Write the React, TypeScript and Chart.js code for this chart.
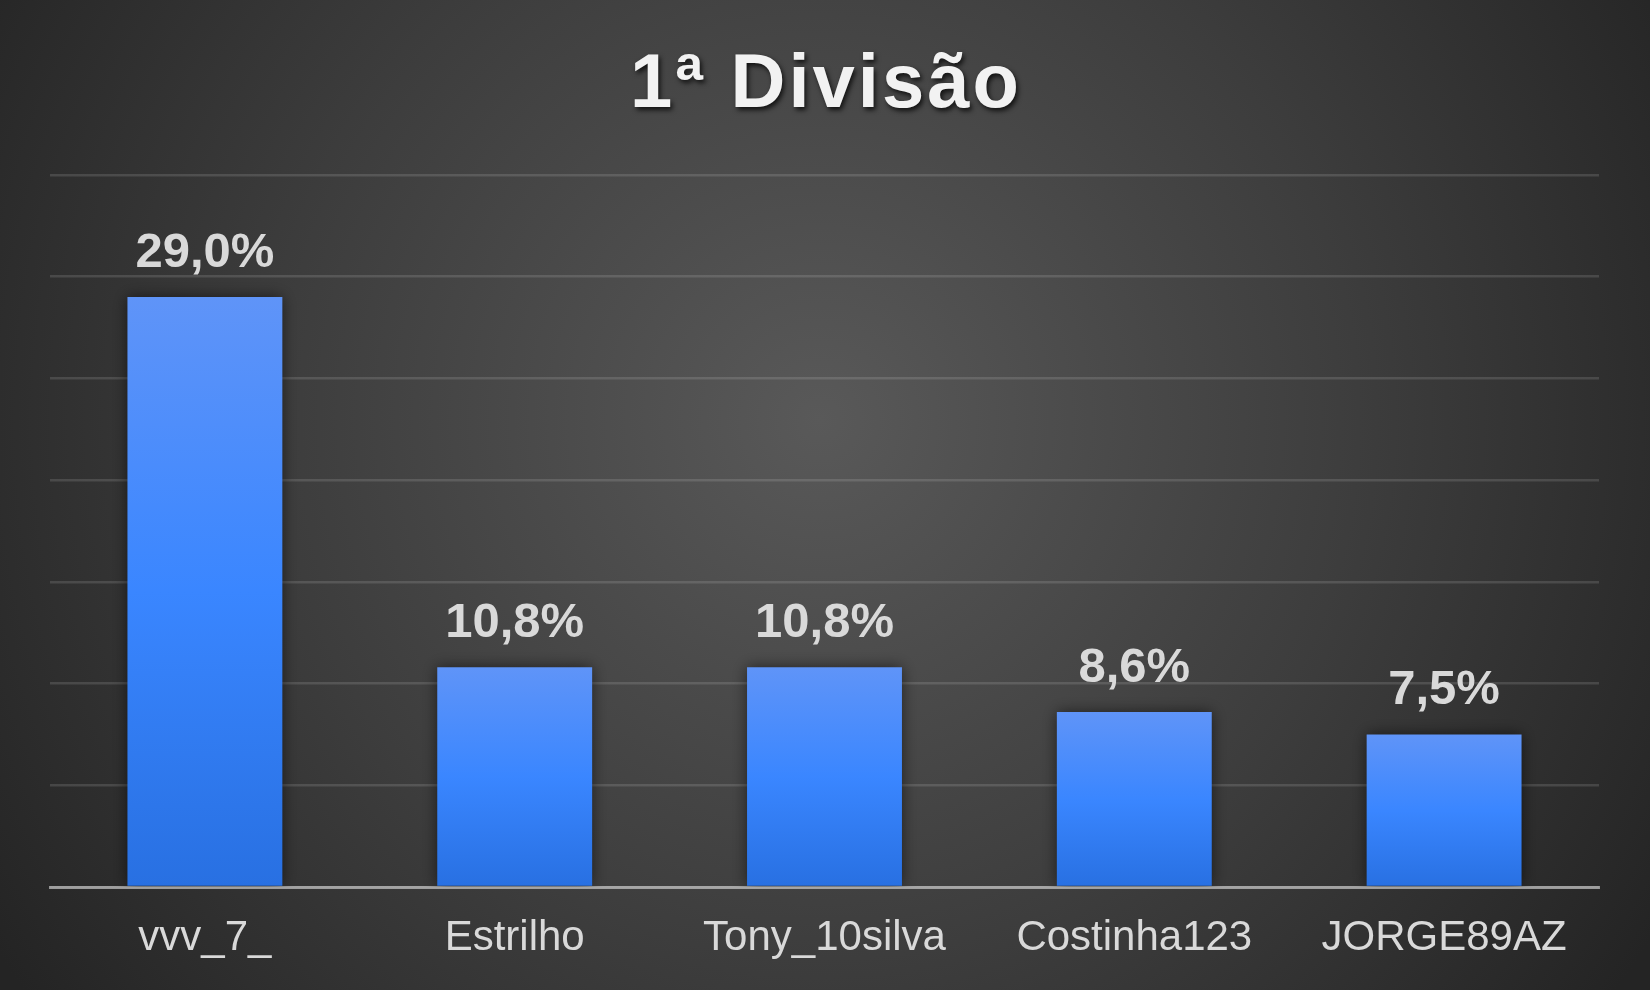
import React, { useEffect, useRef } from "react";
import { Chart, registerables } from "chart.js";

Chart.register(...registerables);

const TITLE = "1ª Divisão";
const categories = ["vvv_7_", "Estrilho", "Tony_10silva", "Costinha123", "JORGE89AZ"];
const values = [29.0, 10.8, 10.8, 8.6, 7.5];
const yMax = 35;
const yStep = 5;

const fmt = (v: number) => v.toFixed(1).replace(".", ",") + "%";

const bgPlugin = {
  id: "bgPlugin",
  beforeDraw(chart: any) {
    const { ctx, width, height } = chart;
    ctx.save();
    const g = ctx.createRadialGradient(820, 420, 0, 820, 420, 980);
    g.addColorStop(0, "#595959");
    g.addColorStop(0.55, "#3d3d3d");
    g.addColorStop(1, "#242424");
    ctx.fillStyle = g;
    ctx.fillRect(0, 0, width, height);
    ctx.restore();
  },
};

const titlePlugin = {
  id: "titlePlugin",
  afterDraw(chart: any) {
    const { ctx, width } = chart;
    ctx.save();
    ctx.font = "bold 76px 'Liberation Sans', Arial, sans-serif";
    (ctx as any).letterSpacing = "3px";
    ctx.textAlign = "center";
    ctx.textBaseline = "alphabetic";
    ctx.shadowColor = "rgba(0,0,0,0.75)";
    ctx.shadowBlur = 5;
    ctx.shadowOffsetX = 2;
    ctx.shadowOffsetY = 3;
    ctx.fillStyle = "#f2f2f2";
    ctx.fillText(TITLE, width / 2 + 1, 107);
    ctx.restore();
  },
};

const shadowPlugin = {
  id: "shadowPlugin",
  beforeDatasetsDraw(chart: any) {
    const ctx = chart.ctx;
    ctx.save();
    ctx.shadowColor = "rgba(0,0,0,0.55)";
    ctx.shadowBlur = 14;
    ctx.shadowOffsetX = 0;
    ctx.shadowOffsetY = 0;
  },
  afterDatasetsDraw(chart: any) {
    chart.ctx.restore();
  },
};

const labelPlugin = {
  id: "labelPlugin",
  afterDatasetsDraw(chart: any) {
    const { ctx } = chart;
    const meta = chart.getDatasetMeta(0);
    ctx.save();
    ctx.shadowColor = "transparent";
    ctx.font = "bold 49px 'Liberation Sans', Arial, sans-serif";
    ctx.textAlign = "center";
    ctx.textBaseline = "alphabetic";
    ctx.fillStyle = "#d9d9d9";
    meta.data.forEach((el: any, i: number) => {
      ctx.fillText(fmt(values[i]), el.x, el.y - 30);
    });
    ctx.restore();
  },
};

export default function App() {
  const ref = useRef<HTMLCanvasElement | null>(null);

  useEffect(() => {
    document.body.style.margin = "0";
    const canvas = ref.current;
    if (!canvas) return;
    const chart = new Chart(canvas, {
      type: "bar",
      data: {
        labels: categories,
        datasets: [
          {
            data: values,
            barPercentage: 1,
            categoryPercentage: 0.5,
            borderWidth: 0,
            backgroundColor: (c: any) => {
              const chart = c.chart;
              const y = chart.scales && chart.scales.y;
              if (!y || !chart.chartArea || typeof c.raw !== "number") return "#3a86ff";
              const top = y.getPixelForValue(c.raw);
              const base = y.getPixelForValue(0);
              const g = chart.ctx.createLinearGradient(0, top, 0, base);
              g.addColorStop(0, "#5f94f8");
              g.addColorStop(0.5, "#3a86ff");
              g.addColorStop(1, "#2870e2");
              return g;
            },
          },
        ],
      },
      options: {
        responsive: false,
        animation: false,
        devicePixelRatio: 1,
        layout: { padding: { left: 50, right: 51, top: 175, bottom: 1 } },
        plugins: {
          legend: { display: false },
          title: { display: false },
          tooltip: { enabled: false },
        },
        scales: {
          x: {
            z: 1,
            grid: { display: false, drawTicks: false },
            border: { display: true, color: "rgba(215,215,215,0.62)", width: 3 },
            ticks: {
              color: "#d9d9d9",
              padding: 30,
              font: { family: "'Liberation Sans', Arial, sans-serif", size: 42, lineHeight: 1 },
              maxRotation: 0,
              autoSkip: false,
            },
          },
          y: {
            min: 0,
            max: yMax,
            ticks: { display: false, stepSize: yStep },
            grid: { color: "rgba(255,255,255,0.13)", lineWidth: 2.5, drawTicks: false },
            border: { display: false },
          },
        },
      },
      plugins: [bgPlugin, shadowPlugin, labelPlugin, titlePlugin],
    });
    return () => chart.destroy();
  }, []);

  return <canvas ref={ref} width={1650} height={990} style={{ display: "block" }} />;
}
